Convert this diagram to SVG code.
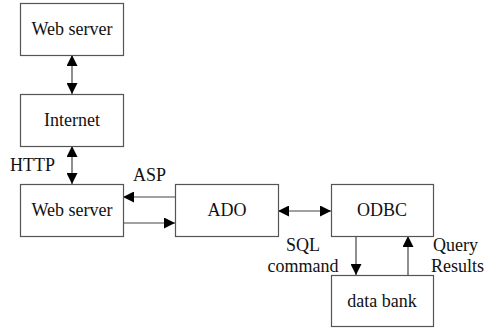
<svg xmlns="http://www.w3.org/2000/svg" width="485" height="329" viewBox="0 0 485 329">
<style>
.box{fill:#fff;stroke:#555;stroke-width:1.2}
.t{font-family:"Times New Roman","Liberation Serif","DejaVu Serif",serif;font-size:18px;fill:#111}
.m{text-anchor:middle}
.c{stroke:#444;stroke-width:1.2;fill:none}
</style>
<defs>
<marker id="a" viewBox="0 0 11 11" refX="11" refY="5.5" markerWidth="11" markerHeight="11" markerUnits="userSpaceOnUse" orient="auto-start-reverse">
<path d="M0,0L11,5.5L0,11z" fill="#000"/>
</marker>
</defs>
<rect width="485" height="329" fill="#fff"/>
<g id="connectors">
<line class="c" x1="72" y1="55" x2="72" y2="94" marker-start="url(#a)" marker-end="url(#a)"/>
<line class="c" x1="72" y1="146" x2="72" y2="184" marker-start="url(#a)" marker-end="url(#a)"/>
<line class="c" x1="175" y1="197" x2="123" y2="197" marker-end="url(#a)"/>
<line class="c" x1="123" y1="223" x2="175" y2="223" marker-end="url(#a)"/>
<line class="c" x1="278" y1="211" x2="331" y2="211" marker-start="url(#a)" marker-end="url(#a)"/>
<line class="c" x1="356" y1="236" x2="356" y2="275" marker-end="url(#a)"/>
<line class="c" x1="408" y1="275" x2="408" y2="236" marker-end="url(#a)"/>
<text class="t" x="10" y="171">HTTP</text>
<text class="t" x="133" y="181">ASP</text>
<text class="t m" x="303" y="251">SQL</text>
<text class="t m" x="303" y="272">command</text>
<text class="t" x="433" y="251">Query</text>
<text class="t" x="431" y="272">Results</text>
</g>
<g id="webserver1"><rect class="box" x="20.5" y="3.5" width="103" height="52"/><text class="t m" x="72" y="35">Web server</text></g>
<g id="internet"><rect class="box" x="20.5" y="94.5" width="103" height="52"/><text class="t m" x="72" y="126">Internet</text></g>
<g id="webserver2"><rect class="box" x="20.5" y="184.5" width="103" height="52"/><text class="t m" x="72" y="216">Web server</text></g>
<g id="ado"><rect class="box" x="175.5" y="184.5" width="103" height="52"/><text class="t m" x="227" y="216">ADO</text></g>
<g id="odbc"><rect class="box" x="331.5" y="184.5" width="102" height="52"/><text class="t m" x="382" y="216">ODBC</text></g>
<g id="databank"><rect class="box" x="331.5" y="275.5" width="102" height="51"/><text class="t m" x="382" y="307">data bank</text></g>
</svg>
